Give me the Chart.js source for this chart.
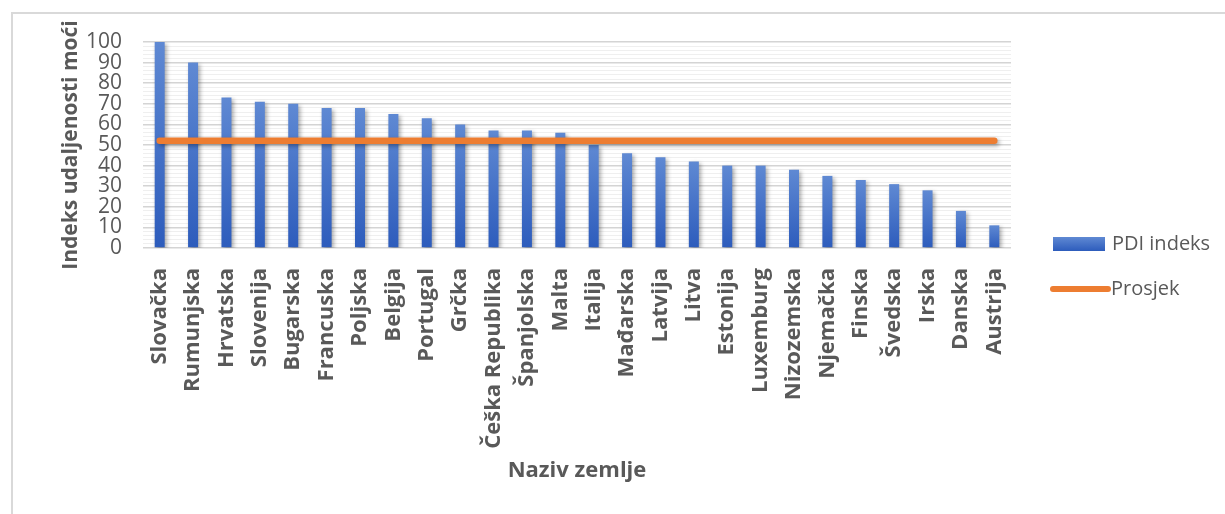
<!DOCTYPE html>
<html>
<head>
<meta charset="utf-8">
<script src="https://cdn.jsdelivr.net/npm/chart.js@4.4.1/dist/chart.umd.min.js"></script>
<style>
    html, body { margin: 0; padding: 0; background: #fff; }
    #wrap { position: relative; width: 1225px; height: 514px; }
    #frame { position: absolute; left: 11px; top: 12px; right: 0; bottom: 0;
             border-top: 2px solid #d9d9d9; border-left: 2px solid #d9d9d9; pointer-events: none; }
</style>
</head>
<body>
<div id="wrap">
    <canvas id="pdiChart" width="1225" height="514"></canvas>
    <div id="frame"></div>
</div>
<script>
// PDI (power distance) index per EU country, plus the flat average line.
const countries = ['Slovačka', 'Rumunjska', 'Hrvatska', 'Slovenija', 'Bugarska', 'Francuska', 'Poljska',
    'Belgija', 'Portugal', 'Grčka', 'Češka Republika', 'Španjolska', 'Malta', 'Italija', 'Mađarska',
    'Latvija', 'Litva', 'Estonija', 'Luxemburg', 'Nizozemska', 'Njemačka', 'Finska', 'Švedska',
    'Irska', 'Danska', 'Austrija'];
const pdiValues = [100, 90, 73, 71, 70, 68, 68, 65, 63, 60, 57, 57, 56, 50, 46, 44, 42, 40, 40, 38, 35, 33, 31, 28, 18, 11];
const averageValues = [52.08, 52.08, 52.08, 52.08, 52.08, 52.08, 52.08, 52.08, 52.08, 52.08, 52.08, 52.08, 52.08,
    52.08, 52.08, 52.08, 52.08, 52.08, 52.08, 52.08, 52.08, 52.08, 52.08, 52.08, 52.08, 52.08];
const yMin = 0;
const yMax = 100;

const FONT = "'Open Sans', 'Liberation Sans', sans-serif";
const TEXT = '#595959';
const BLUE = '#4472c4';
const ORANGE = '#ed7d31';

// Excel-like vertical gradient on every bar (lighter top, darker base).
function barGradient(ctx) {
    const chart = ctx.chart;
    if (!chart.chartArea || ctx.raw === undefined) return BLUE;
    const y = chart.scales.y;
    const top = y.getPixelForValue(ctx.raw);
    const base = y.getPixelForValue(0);
    const g = chart.ctx.createLinearGradient(0, top, 0, base);
    g.addColorStop(0, '#5f89d3');
    g.addColorStop(1, '#2d5cbc');
    return g;
}

// Soft drop shadow under the bars and the line.
const shadowPlugin = {
    id: 'shadow',
    beforeDatasetDraw(chart) {
        const c = chart.ctx;
        c.save();
        c.shadowColor = 'rgba(0,0,0,0.35)';
        c.shadowBlur = 4;
        c.shadowOffsetX = 2;
        c.shadowOffsetY = 2;
    },
    afterDatasetDraw(chart) {
        chart.ctx.restore();
    }
};

// Legend to the right of the plot: blue block + orange rounded line.
const sideLegend = {
    id: 'sideLegend',
    afterDraw(chart) {
        const c = chart.ctx;
        const x = chart.chartArea.right + 42;
        const y1 = chart.chartArea.bottom - 4;
        const y2 = y1 + 45;
        c.save();
        const g = c.createLinearGradient(0, y1 - 7, 0, y1 + 7);
        g.addColorStop(0, '#5f89d3');
        g.addColorStop(1, '#2d5cbc');
        c.fillStyle = g;
        c.fillRect(x, y1 - 7, 52, 14);
        c.strokeStyle = ORANGE;
        c.lineWidth = 6;
        c.lineCap = 'round';
        c.beginPath();
        c.moveTo(x, y2);
        c.lineTo(x + 55, y2);
        c.stroke();
        c.fillStyle = TEXT;
        c.font = `20px ${FONT}`;
        c.textBaseline = 'middle';
        c.fillText('PDI indeks', x + 59, y1);
        c.fillText('Prosjek', x + 58, y2);
        c.restore();
    }
};

new Chart(document.getElementById('pdiChart').getContext('2d'), {
    data: {
        labels: countries,
        datasets: [
            { type: 'line', label: 'Prosjek', data: averageValues, borderColor: ORANGE, borderWidth: 6.5,
              borderCapStyle: 'round', pointRadius: 0, order: 0 },
            { type: 'bar', label: 'PDI indeks', data: pdiValues, backgroundColor: barGradient,
              barPercentage: 0.3, categoryPercentage: 1, order: 1 }
        ]
    },
    options: {
        responsive: false,
        animation: false,
        layout: { padding: { left: 58, right: 214, top: 42, bottom: 30 } },
        plugins: { legend: { display: false }, tooltip: { enabled: false } },
        scales: {
            x: {
                grid: { display: false },
                border: { display: false },
                ticks: {
                    color: TEXT, font: { family: FONT, size: 22, weight: 'bold' },
                    maxRotation: 90, minRotation: 90, autoSkip: false, padding: 12
                },
                title: { display: true, text: 'Naziv zemlje', color: TEXT,
                         font: { family: FONT, size: 22, weight: 'bold' }, padding: 0 },
                afterFit: (scale) => { scale.height = 236; }
            },
            y: {
                min: yMin, max: yMax,
                border: { display: false },
                grid: {
                    drawTicks: false,
                    color: (ctx) => (ctx.tick && ctx.tick.value % 10 === 0) ? '#d4d4d4' : '#efefef',
                    lineWidth: (ctx) => (ctx.tick && ctx.tick.value % 10 === 0) ? 1.5 : 1
                },
                ticks: {
                    stepSize: 2, autoSkip: false, padding: 21, color: TEXT,
                    font: { family: FONT, size: 21 },
                    callback: (v) => (v % 10 === 0 ? v : '')
                },
                title: { display: true, text: 'Indeks udaljenosti moći', color: TEXT,
                         font: { family: FONT, size: 21, weight: 'bold' }, padding: 0 },
                afterFit: (scale) => { scale.width = 85; }
            }
        }
    },
    plugins: [shadowPlugin, sideLegend]
});
</script>
</body>
</html>
